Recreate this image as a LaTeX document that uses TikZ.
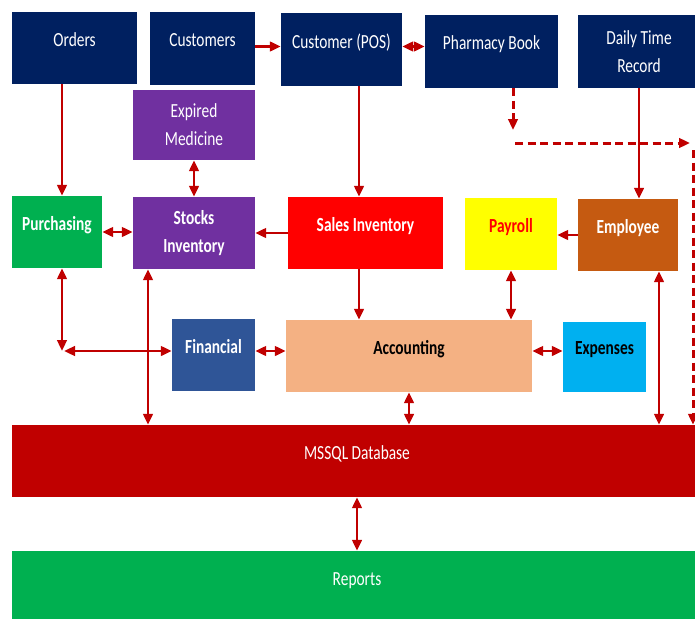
\documentclass[tikz,border=0pt]{standalone}
\usepackage{fontspec}
\setmainfont[FakeStretch=0.77]{Carlito}
\usepackage{tikz}
\usetikzlibrary{arrows.meta,positioning}
\definecolor{navybox}{RGB}{0,32,96}
\definecolor{purplebox}{RGB}{112,48,160}
\definecolor{greenbox}{RGB}{0,176,80}
\definecolor{redbox}{RGB}{255,0,0}
\definecolor{yellowbox}{RGB}{255,255,0}
\definecolor{brownbox}{RGB}{197,90,17}
\definecolor{bluebox}{RGB}{47,85,151}
\definecolor{peachbox}{RGB}{244,177,131}
\definecolor{cyanbox}{RGB}{0,176,240}
\definecolor{darkred}{RGB}{192,0,0}

\begin{document}
\begin{tikzpicture}[
    x=1pt, y=-1pt,
    box/.style={rectangle, inner sep=0pt, text=white, align=center, font=\fontsize{20}{28}\selectfont},
    bold/.style={font=\fontsize{20}{28}\selectfont\bfseries},
    lift/.style={text depth=17pt},
    wh/.style 2 args={minimum width=#1pt, minimum height=#2pt},
    arrow/.style={-{Triangle[length=11pt,width=9.5pt]}, line width=2.8pt, draw=darkred},
    biarrow/.style={{Triangle[length=11pt,width=9.5pt]}-{Triangle[length=11pt,width=9.5pt]}, line width=2.8pt, draw=darkred},
    dasharrow/.style={arrow, line width=3pt, dash pattern=on 8pt off 4.5pt}
]
\clip (0,0) rectangle (695,618);

% top row
\node[box, lift, fill=navybox, wh={125}{72}] (orders) at (74.5,48) {Orders};
\node[box, lift, fill=navybox, wh={105}{73}] (customers) at (202.5,48.5) {Customers};
\node[box, lift, fill=navybox, wh={121}{73}] (pos) at (341.5,49.5) {Customer (POS)};
\node[box, lift, fill=navybox, wh={133}{73}] (pharmacy) at (491.5,51.5) {Pharmacy Book};
\node[box, fill=navybox, wh={122}{73}] (dtr) at (639,51.5) {Daily Time\\Record};

% middle rows
\node[box, fill=purplebox, wh={122}{70}] (expired) at (194,125) {Expired\\Medicine};
\node[box, bold, lift, fill=greenbox, wh={90}{72}] (purchasing) at (57,232) {Purchasing};
\node[box, bold, fill=purplebox, wh={122}{72}] (stocks) at (194,233) {Stocks\\Inventory};
\node[box, bold, lift, fill=redbox, wh={155}{72}] (sales) at (365.5,233) {Sales Inventory};
\node[box, bold, lift, fill=yellowbox, text=redbox, wh={92}{72}] (payroll) at (511,234) {Payroll};
\node[box, bold, lift, fill=brownbox, wh={100}{72}] (employee) at (628,235) {Employee};
\node[box, bold, lift, fill=bluebox, wh={83}{72}] (financial) at (213.5,355) {Financial};
\node[box, bold, lift, fill=peachbox, text=black, wh={246}{72}] (accounting) at (409,356) {Accounting};
\node[box, bold, lift, fill=cyanbox, text=black, wh={83}{70}] (expenses) at (604.5,357) {Expenses};

% bottom bars
\node[box, lift, fill=darkred, wh={690}{72}] (db) at (357,461) {MSSQL Database};
\node[box, lift, fill=greenbox, wh={690}{74}] (reports) at (357,588) {Reports};

\coordinate (pf) at (62,351);
\coordinate (dashA) at (513,130);
\coordinate (dashB) at (515,143);
\coordinate (dashC) at (690,143);
\coordinate (dashD) at (693,150);

\draw[arrow] ([xshift=-12.5pt]orders.south) -- ([xshift=5pt]purchasing.north);
\draw[arrow] ([yshift=2pt]customers.east) -- ([yshift=3pt]pos.west);
\draw[biarrow] ([yshift=3pt]pos.east) -- ([yshift=5pt]pharmacy.west);
\draw[arrow] ([xshift=17.5pt]pos.south) -- ([xshift=-6.5pt]sales.north);
\draw[arrow] (dtr.south) -- (dtr.south |- employee.north);
\draw[dasharrow] ([xshift=21.5pt]pharmacy.south) -- (dashA);
\draw[dasharrow] (dashB) -- (dashC);
\draw[dasharrow] (dashD) -- ([xshift=336pt]db.north);

\draw[biarrow] (expired.south) -- (stocks.north);
\draw[biarrow] (purchasing.east) -- (purchasing.east -| stocks.west);
\draw[arrow] (sales.west) -- (sales.west -| stocks.east);
\draw[arrow] (employee.west) -- (employee.west -| payroll.east);

\draw[biarrow] ([xshift=5pt]purchasing.south) -- (pf);
\draw[biarrow] ([xshift=2pt]pf) -- (pf -| financial.west);
\draw[biarrow] ([xshift=-46pt]stocks.south) -- ([xshift=-209pt]db.north);
\draw[biarrow] ([yshift=4pt]financial.east) -- ([yshift=5pt]accounting.west);
\draw[arrow] ([xshift=-6.5pt]sales.south) -- ([xshift=-50pt]accounting.north);
\draw[biarrow] (payroll.south) -- (payroll.south |- accounting.north);
\draw[biarrow] ([yshift=5pt]accounting.east) -- ([yshift=6pt]expenses.west);
\draw[biarrow] (accounting.south) -- (accounting.south |- db.north);
\draw[biarrow] ([xshift=31pt]employee.south) -- ([xshift=302pt]db.north);
\draw[biarrow] (db.south) -- (reports.north);

\end{tikzpicture}
\end{document}
